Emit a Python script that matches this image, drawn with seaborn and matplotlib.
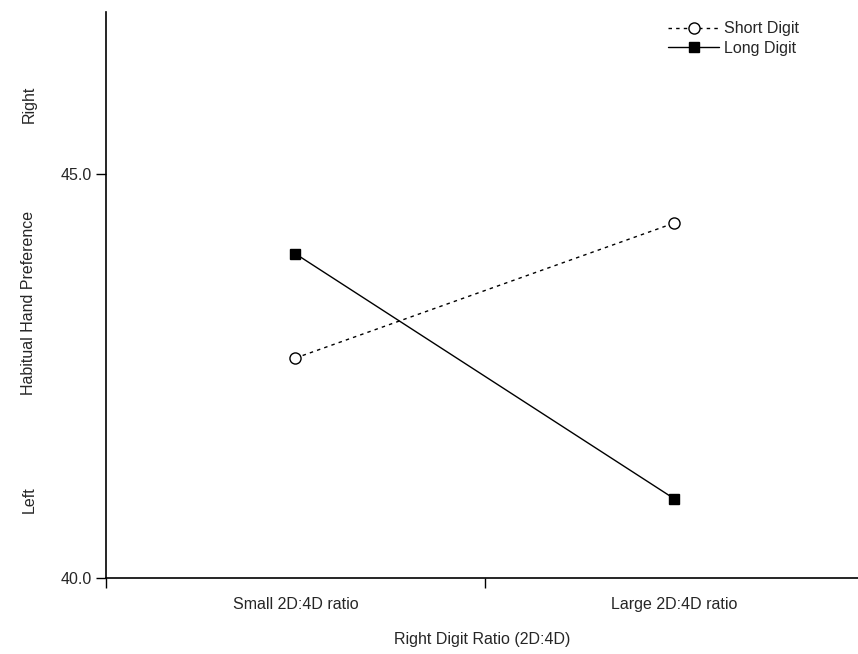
import matplotlib
matplotlib.use("Agg")
import matplotlib.pyplot as plt
import seaborn as sns
import pandas as pd

categories = ["Small 2D:4D ratio", "Large 2D:4D ratio"]
short_digit = [42.72, 44.39]
long_digit = [44.01, 40.98]
series_names = ["Short Digit", "Long Digit"]
y_ticks = [40.0, 45.0]

sns.set_style("ticks")
plt.rcParams['font.family'] = ['Liberation Sans', 'DejaVu Sans']

df = pd.DataFrame({
    "ratio": categories * 2,
    "pos": [0, 1, 0, 1],
    "pref": short_digit + long_digit,
    "digit": [series_names[0]] * 2 + [series_names[1]] * 2,
})

fig = plt.figure(figsize=(8.58, 6.54), dpi=100)
ax = fig.add_axes([106 / 858, 1 - 578 / 654, 1 - 106 / 858, (578 - 12) / 654])

sns.lineplot(data=df[df.digit == series_names[0]], x="pos", y="pref", ax=ax,
             color="black", marker="o", markersize=8, markerfacecolor="white",
             markeredgecolor="black", markeredgewidth=1.0, linewidth=1.0,
             linestyle=(0, (2.5, 3)), label=series_names[0])
sns.lineplot(data=df[df.digit == series_names[1]], x="pos", y="pref", ax=ax,
             color="black", marker="s", markersize=7, markerfacecolor="black",
             markeredgecolor="black", markeredgewidth=1.0, linewidth=1.0,
             linestyle="-", label=series_names[1])

ax.set_xlim(-0.5, 1.485)
ax.set_ylim(40, 47)
ax.set_yticks(y_ticks)
ax.set_yticklabels([f"{v:.1f}" for v in y_ticks], fontsize=11.5)
ax.set_xticks([-0.5, 0.5])
ax.set_xticklabels(["", ""])
ax.set_xticks([0, 1], minor=True)
ax.set_xticklabels(categories, minor=True, fontsize=11.5)
ax.tick_params(axis="x", which="minor", length=0, pad=14)
ax.tick_params(axis="both", which="major", length=7, width=1, direction="out", color="black")
ax.tick_params(axis="y", pad=3)
for s in ["top", "right"]:
    ax.spines[s].set_visible(False)
for s in ["left", "bottom"]:
    ax.spines[s].set_linewidth(1.2)
    ax.spines[s].set_color("black")

ax.set_xlabel("Right Digit Ratio (2D:4D)", fontsize=11.5, labelpad=14)
ax.set_ylabel("")
fig.text(29 / 858, 1 - 303 / 654, "Habitual Hand Preference", rotation=90,
         ha="center", va="center", fontsize=11.5)
fig.text(29 / 858, 1 - 104 / 654, "Right", rotation=90, ha="center", va="center", fontsize=11.5)
fig.text(29 / 858, 1 - 500 / 654, "Left", rotation=90, ha="center", va="center", fontsize=11.5)

ax.legend(loc="upper right", bbox_to_anchor=(0.93, 0.995), frameon=False, fontsize=11.5,
          handlelength=3.2, handletextpad=0.3, labelspacing=0.3, borderaxespad=0)

fig.savefig("out.png", dpi=100)
